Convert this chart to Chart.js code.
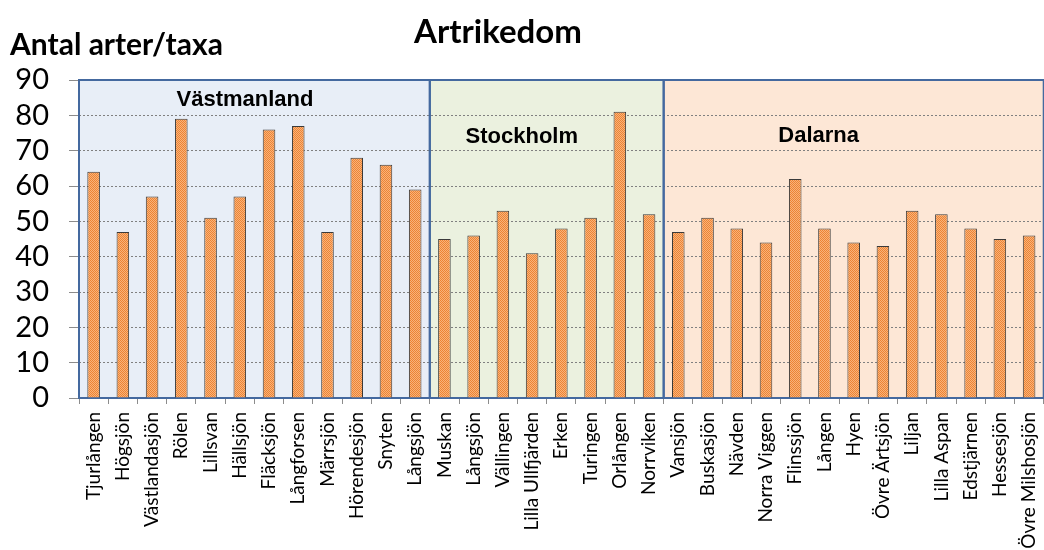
<!DOCTYPE html>
<html><head><meta charset="utf-8">
<script src="https://cdn.jsdelivr.net/npm/chart.js@4.4.0/dist/chart.umd.min.js"></script>
<style>
html,body{margin:0;padding:0;background:#fff;overflow:hidden;width:1044px;height:550px}
#wrap{position:absolute;left:0;top:0;width:1060px;height:550px}
</style></head><body><div id="wrap"><canvas id="c" width="1060" height="550"></canvas></div>
<script>
// ---- data ----
const chartTitle = "Artrikedom";
const yAxisTitle = "Antal arter/taxa";
const regionNames = ["Västmanland", "Stockholm", "Dalarna"];
const vastmanlandLakes = ["Tjurlången","Högsjön","Västlandasjön","Rölen","Lillsvan","Hällsjön","Fläcksjön","Långforsen","Märrsjön","Hörendesjön","Snyten","Långsjön"];
const vastmanlandValues = [64,47,57,79,51,57,76,77,47,68,66,59];
const stockholmLakes = ["Muskan","Långsjön","Vällingen","Lilla Ullfjärden","Erken","Turingen","Orlången","Norrviken"];
const stockholmValues = [45,46,53,41,48,51,81,52];
const dalarnaLakes = ["Vansjön","Buskasjön","Nävden","Norra Viggen","Flinssjön","Lången","Hyen","Övre Ärtsjön","Liljan","Lilla Aspan","Edstjärnen","Hessesjön","Övre Milshosjön"];
const dalarnaValues = [47,51,48,44,62,48,44,43,53,52,48,45,46];
const yTickValues = [0,10,20,30,40,50,60,70,80,90];

const categories = [...vastmanlandLakes, ...stockholmLakes, ...dalarnaLakes];
const values = [...vastmanlandValues, ...stockholmValues, ...dalarnaValues];
const regionCounts = [vastmanlandLakes.length, stockholmLakes.length, dalarnaLakes.length];

// ---- styles ----
const regionFills = ['#E8EEF7', '#EBF1DF', '#FDE7D6'];
const regionBorder = '#44699F';
const regionLabelStyle = [
  {dx: 166, y: 106}, {dx: 92, y: 143}, {dx: 155, y: 142}
];

function makePattern() {
  const p = document.createElement('canvas');
  p.width = 2; p.height = 2;
  const g = p.getContext('2d');
  g.fillStyle = '#F9B27A'; g.fillRect(0,0,2,2);
  g.fillStyle = '#EC8434'; g.fillRect(0,0,1,1); g.fillRect(1,1,1,1);
  return g.createPattern(p, 'repeat');
}
const barFill = makePattern();

const regionPlugin = {
  id: 'regions',
  bounds(chart) {
    const xs = chart.scales.x;
    const cw = xs.getPixelForValue(1) - xs.getPixelForValue(0);
    const out = [];
    let start = 0;
    regionCounts.forEach(n => {
      const l = xs.getPixelForValue(start) - cw/2;
      const r = xs.getPixelForValue(start + n - 1) + cw/2;
      out.push([l, r]);
      start += n;
    });
    return out;
  },
  beforeDraw(chart) {
    const {ctx, chartArea: a} = chart;
    this.bounds(chart).forEach((b, i) => {
      ctx.fillStyle = regionFills[i];
      ctx.fillRect(b[0], a.top, b[1]-b[0], a.bottom - a.top);
    });
  },
  beforeDatasetsDraw(chart) {
    const {ctx, chartArea: a} = chart;
    ctx.save();
    ctx.strokeStyle = regionBorder;
    ctx.lineWidth = 2;
    this.bounds(chart).forEach(b => {
      ctx.strokeRect(b[0], a.top, b[1]-b[0], a.bottom - a.top);
    });
    ctx.restore();
  },
  afterDraw(chart) {
    const {ctx} = chart;
    ctx.save();
    ctx.fillStyle = '#000';
    ctx.textAlign = 'center';
    ctx.textBaseline = 'alphabetic';
    ctx.font = 'bold 22px "Liberation Sans", Arial, sans-serif';
    this.bounds(chart).forEach((b, i) => {
      ctx.fillText(regionNames[i], b[0] + regionLabelStyle[i].dx, regionLabelStyle[i].y);
    });
    ctx.font = 'bold 33px Lato, "Open Sans", sans-serif';
    ctx.fillText(chartTitle, 498, 43);
    ctx.textAlign = 'left';
    ctx.font = 'bold 30px Lato, "Open Sans", sans-serif';
    ctx.fillText(yAxisTitle, 10, 55);
    ctx.restore();
  }
};

new Chart(document.getElementById('c'), {
  type: 'bar',
  data: {
    labels: categories,
    datasets: [{
      data: values,
      backgroundColor: barFill,
      borderColor: '#3a3a3a',
      borderWidth: 1,
      barPercentage: 0.43,
      categoryPercentage: 1.0
    }]
  },
  options: {
    responsive: false,
    animation: false,
    devicePixelRatio: 1,
    layout: {padding: {top: 80, right: 7, left: 0, bottom: 0}},
    plugins: {legend: {display: false}, tooltip: {enabled: false}, title: {display: false}},
    scales: {
      x: {
        afterFit: s => { s.height = 152; },
        grid: {drawOnChartArea: false, drawTicks: true, tickLength: 6, color: '#8c8c8c', offset: true},
        border: {display: false},
        ticks: {minRotation: 90, maxRotation: 90, autoSkip: false, padding: 8, color: '#000',
                font: {family: 'Lato, "Open Sans", sans-serif', size: 19}}
      },
      y: {
        min: 0, max: 90,
        afterFit: s => { s.width = 79; },
        afterBuildTicks: s => { s.ticks = yTickValues.map(v => ({value: v})); },
        grid: {color: '#808080', lineWidth: 1, tickLength: 10, tickColor: '#8c8c8c', drawTicks: true, tickBorderDash: []},
        border: {display: false, dash: [2, 2]},
        ticks: {autoSkip: false, padding: 20, color: '#000', font: {family: 'Lato, "Open Sans", sans-serif', size: 29}}
      }
    }
  },
  plugins: [regionPlugin]
});
</script>
</body></html>
